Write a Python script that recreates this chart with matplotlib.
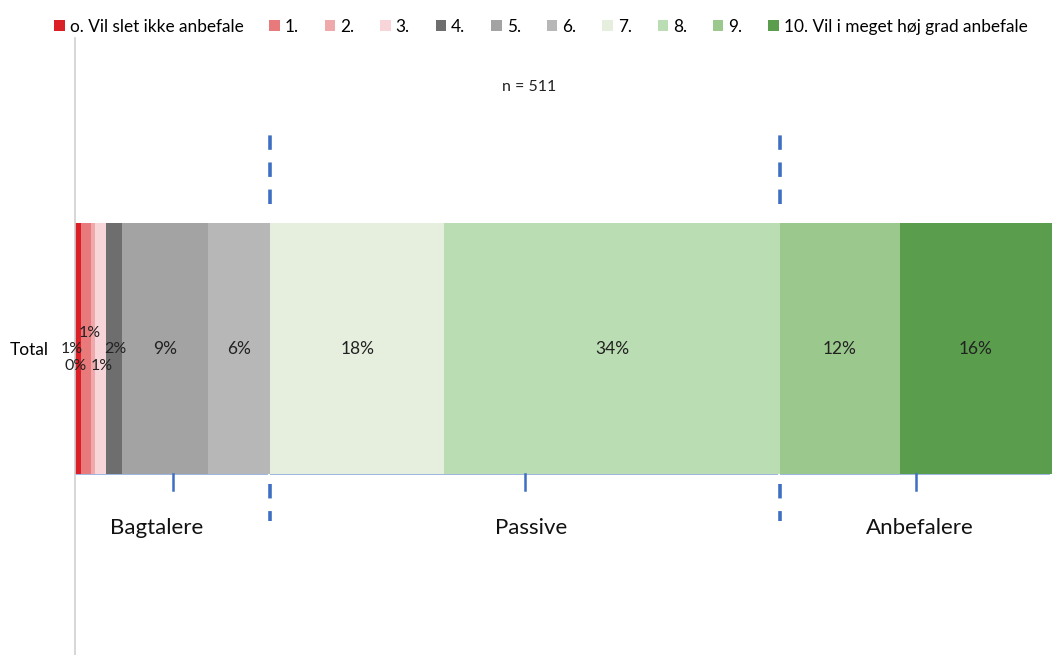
import matplotlib
matplotlib.use("Agg")
import matplotlib.pyplot as plt
from matplotlib.patches import Patch

# Data
categories = ["o. Vil slet ikke anbefale", "1.", "2.", "3.", "4.", "5.", "6.",
              "7.", "8.", "9.", "10. Vil i meget høj grad anbefale"]
shares = [0.6, 1.0, 0.4, 1.2, 1.6, 8.8, 6.4, 17.8, 34.4, 12.2, 15.6]
colors = ["#DA1F26", "#E87A7C", "#F0A9AA", "#F8D5D8", "#6E6E6E", "#A3A3A3",
          "#B7B7B7", "#E6EFDD", "#BBDDB3", "#9BC98D", "#5A9E4D"]
row_label = "Total"
n_text = "n = 511"
groups = ["Bagtalere", "Passive", "Anbefalere"]
group_bounds = [(0, 7), (7, 9), (9, 11)]   # index ranges into shares

# label nudges for the crowded small segments (x in %, y in bar-height units)
label_dx = [-0.6, 0.45, -1.75, 0.15, 0.1, 0, 0, 0, 0, 0, 0]
label_dy = [0.0, 0.06, -0.07, -0.07, 0.0, 0, 0, 0, 0, 0, 0]

plt.rcParams['font.family'] = ['Lato', 'DejaVu Sans']

fig = plt.figure(figsize=(10.52, 6.55), dpi=100)
ax = fig.add_axes([75/1052, 0, 1 - 75/1052, 617/655])

left = 0
lefts = []
for val, col in zip(shares, colors):
    ax.barh(0, val, left=left, height=1.0, color=col, edgecolor='none')
    lefts.append(left)
    left += val

# value labels
for i, (l, val) in enumerate(zip(lefts, shares)):
    xc = l + val / 2 + label_dx[i]
    ax.text(xc, label_dy[i], "%d%%" % round(val), ha='center', va='center',
            fontsize=12.5 if i > 4 else 11.5, color='#222222')

ax.set_xlim(0, sum(shares))
ax.set_ylim(-1.224, 1.24)

# group boundaries (dashed blue lines) and group labels
blue = "#3E6FC2"
cum = [sum(shares[:k]) for k in range(len(shares) + 1)]
for k in (group_bounds[0][1], group_bounds[1][1]):
    xb = cum[k]
    ax.plot([xb, xb], [0.576, 0.86], color=blue, lw=2.6, dashes=[4, 3.5],
            dash_capstyle='butt')
    ax.plot([xb, xb], [-0.54, -0.69], color=blue, lw=2.6, dashes=[4, 3.5],
            dash_capstyle='butt')

label_shift = [-1.6, 0.6, 0.4]
for name, (a, b), sh in zip(groups, group_bounds, label_shift):
    x0, x1 = cum[a], cum[b]
    xm = (x0 + x1) / 2
    ax.plot([x0, x1 - 0.3], [-0.5, -0.5], color=blue, lw=0.6, alpha=0.6)
    ax.plot([xm, xm], [-0.5, -0.565], color=blue, lw=1.8)
    ax.text(xm + sh, -0.716, name, ha='center', va='center', fontsize=16,
            color='#111111')

ax.text(46.5, 1.045, n_text, ha='center', va='center', fontsize=11.5,
        color='#222222')

# axes styling
ax.set_yticks([0])
ax.set_yticklabels([row_label], fontsize=12.5)
ax.tick_params(axis='y', length=0, pad=19)
ax.set_xticks([])
for side in ("top", "right", "bottom"):
    ax.spines[side].set_visible(False)
ax.spines["left"].set_color("#D0D0D0")
ax.spines["left"].set_linewidth(1.2)

# legend
handles = [Patch(facecolor=c, edgecolor='none') for c in colors]
fig.legend(handles, categories, loc='center', ncol=len(categories),
           bbox_to_anchor=(541/1052, 1 - 27/655), frameon=False,
           fontsize=12.4, handlelength=0.6, handleheight=0.6,
           handletextpad=0.3, columnspacing=1.5, borderaxespad=0)

fig.savefig("out.png", dpi=100)
